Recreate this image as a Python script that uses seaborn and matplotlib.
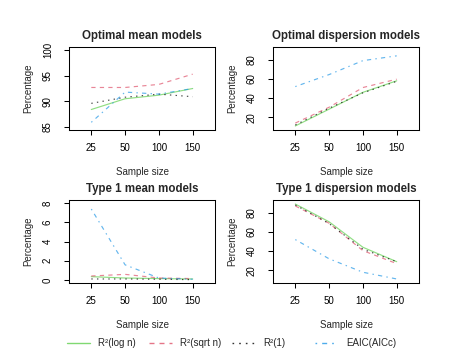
"""
Model selection simulation - percentage of optimal / type 1 models
by sample size, for four selection criteria.
"""

import matplotlib

matplotlib.use("Agg")
import matplotlib.pyplot as plt
import numpy as np
import pandas as pd
import seaborn as sns
from matplotlib.lines import Line2D

# ---- data ----
sample_sizes = ["25", "50", "100", "150"]
methods = ["R²(log n)", "R²(sqrt n)", "R²(1)", "EAIC(AICc)"]

opt_mean_logn = [88.4, 90.5, 91.2, 92.5]
opt_mean_sqrtn = [92.7, 92.7, 93.3, 95.3]
opt_mean_one = [89.6, 90.8, 91.4, 90.9]
opt_mean_eaic = [85.9, 91.8, 91.4, 92.5]

opt_disp_logn = [11.0, 28.5, 46.0, 58.0]
opt_disp_sqrtn = [14.0, 30.5, 51.0, 59.7]
opt_disp_one = [12.0, 29.5, 45.5, 57.5]
opt_disp_eaic = [52.0, 64.5, 79.0, 84.0]

t1_mean_logn = [0.34, 0.2, 0.14, 0.1]
t1_mean_sqrtn = [0.41, 0.58, 0.2, 0.14]
t1_mean_one = [0.1, 0.1, 0.07, 0.03]
t1_mean_eaic = [7.38, 1.57, 0.2, 0.07]

t1_disp_logn = [89.0, 70.5, 44.0, 29.0]
t1_disp_sqrtn = [87.0, 69.0, 40.5, 27.0]
t1_disp_one = [88.0, 68.7, 42.0, 29.0]
t1_disp_eaic = [52.0, 32.0, 18.0, 11.0]

panels = [
    ("Optimal mean models", [opt_mean_logn, opt_mean_sqrtn, opt_mean_one, opt_mean_eaic],
     (85, 100), [85, 90, 95, 100]),
    ("Optimal dispersion models", [opt_disp_logn, opt_disp_sqrtn, opt_disp_one, opt_disp_eaic],
     (10, 90), [20, 40, 60, 80]),
    ("Type 1 mean models", [t1_mean_logn, t1_mean_sqrtn, t1_mean_one, t1_mean_eaic],
     (0, 8), [0, 2, 4, 6, 8]),
    ("Type 1 dispersion models", [t1_disp_logn, t1_disp_sqrtn, t1_disp_one, t1_disp_eaic],
     (10, 90), [20, 40, 60, 80]),
]

palette = dict(zip(methods, ["#61D04F", "#DF536B", "black", "#2297E6"]))
dashes = dict(zip(methods, ["", (3.6, 3.6), (1.2, 3.6), (1.2, 3.6, 3.6, 3.6)]))
LW = 0.85
ALPHA = 0.7

sns.set_theme(style="ticks")
plt.rcParams["font.family"] = ["Liberation Sans", "DejaVu Sans"]
plt.rcParams["axes.linewidth"] = 0.75
plt.rcParams["xtick.major.width"] = 0.75
plt.rcParams["ytick.major.width"] = 0.75
plt.rcParams["xtick.major.size"] = 3.6
plt.rcParams["ytick.major.size"] = 3.6
plt.rcParams["axes.edgecolor"] = "black"

W, H = 454, 353
fig = plt.figure(figsize=(W / 100, H / 100), dpi=100)

# axes boxes in pixels: (left, top, right, bottom)
boxes = [(69, 47, 215, 130), (273, 47, 419, 130), (69, 200, 215, 283), (273, 200, 419, 283)]


def pad_lim(lo, hi):
    ext = (hi - lo) * 0.04
    return lo - ext, hi + ext


for (title, series, ylim, yticks), (l, t, r, b) in zip(panels, boxes):
    ax = fig.add_axes([l / W, 1 - b / H, (r - l) / W, (b - t) / H])
    df = pd.DataFrame(
        {
            "size": sample_sizes * len(methods),
            "pct": np.concatenate(series),
            "method": np.repeat(methods, len(sample_sizes)),
        }
    )
    sns.lineplot(
        data=df, x="size", y="pct", hue="method", style="method",
        palette=palette, dashes=dashes, linewidth=LW, alpha=ALPHA,
        sort=False, legend=False, ax=ax,
    )
    ax.set_xlim(-0.66, 3.66)
    ax.set_ylim(pad_lim(*ylim))
    ax.set_yticks(yticks)
    ax.set_title(title, fontsize=8.3, fontweight="bold", pad=6)
    ax.set_xlabel("Sample size", fontsize=7, labelpad=10)
    ax.set_ylabel("Percentage", fontsize=7, labelpad=7)
    ax.tick_params(labelsize=7, colors="black")
    ax.tick_params(axis="x", pad=6)
    ax.tick_params(axis="y", pad=8)
    plt.setp(ax.get_yticklabels(), rotation=90, va="center")
    for sp in ax.spines.values():
        sp.set_visible(True)
        sp.set_color("black")
    ax.set_facecolor("white")

# legend along the bottom, one entry per slot like the original
legend_x = [67, 149, 232, 315]
for lab, x in zip(methods, legend_x):
    h = Line2D([0, 1], [0, 0], color=palette[lab], linewidth=1.0, alpha=0.8,
               linestyle=(0, dashes[lab]) if dashes[lab] else "-")
    fig.legend(
        handles=[h], labels=[lab], loc="center left",
        bbox_to_anchor=(x / W, 1 - 343 / H),
        frameon=False, fontsize=7, handlelength=2.4, handletextpad=0.8,
        borderpad=0, borderaxespad=0,
    )

fig.savefig("out.png", dpi=100, facecolor="white")
